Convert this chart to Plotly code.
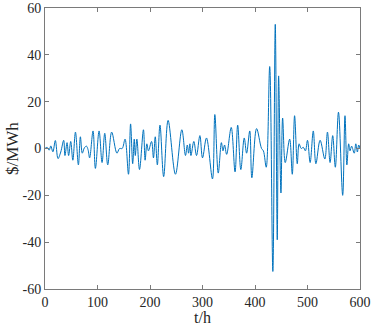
import plotly.graph_objects as go

t_h = [0, 4, 8, 11, 15, 19.7, 24.8, 30, 35.6, 38, 42, 45, 49, 53, 58, 63.6, 67.4, 71, 75, 79,
       82, 85, 91.5, 96, 103, 108.7, 113.8, 119.5, 127, 137, 142, 147, 152.5, 159, 163, 167, 170, 172, 175, 180,
       187.5, 190.7, 194, 197, 203, 206.6, 210, 214, 219, 226, 234.5, 248.5, 260.6, 267.6, 271, 273.5, 276, 278, 283.5, 288.6,
       295, 300, 307.6, 319, 323.5, 330, 336, 339, 342, 346, 354.7, 362, 367, 373, 379.5, 384, 390, 394, 403, 412.5,
       416, 421.4, 428, 434, 438.6, 442.4, 445, 449.4, 452.6, 457.6, 466, 471, 475.4, 480.5, 484, 488, 492, 496, 500, 505,
       511, 516, 524, 533, 538, 543, 548, 553, 559, 567, 571.4, 575, 578.4, 581, 584, 589, 592, 595, 597.5, 600]
price = [0, 0.5, -0.7, 1.1, -1.4, 3.4, -4.3, -1.5, 3.5, -3, 2.5, -3, 3, -5, 7, -7, 5, -2, 0.3, 1,
         -0.5, -4, 7.5, -8.5, 7.5, -6, 6.5, -7, 7, -2, 0, 0, 4, -11, 10.5, -6.5, 4, -3, 4, -9,
         8, -5, 2, -1, 3, -4, 5, -7, 10, -12, 12, -11, 8, -3, 1.5, -2, 2, -3, 3, -3,
         5.5, -4, 4.5, -13, 14.5, -10.5, 2.5, -1, 1.5, -2.5, 9, -10, 10, -9, 4.5, -2, 7.5, -12.5, 8.5, 0,
         -1, -8, 35, -52.5, 53, -39, 31, -19, 13, -6, 4, -11, 14, -6.5, 2, 0, 0.5, -1, 3.5, -6,
         7.5, -6.5, 3.5, -4.5, 7, -6, 5.5, -8, 15.5, -20, 14, -7, 2, -1, 1, -2, 2, -1.5, 1.5, 0]

x_ticks = [0, 100, 200, 300, 400, 500, 600]
y_ticks = [-60, -40, -20, 0, 20, 40, 60]

FONT = "Liberation Serif"
AX = "#7a7a7a"

fig = go.Figure(go.Scatter(x=t_h, y=price, mode="lines",
                           line=dict(color="#0072BD", width=1, shape="spline", smoothing=1.0)))

axis_common = dict(showline=True, linecolor=AX, linewidth=1, mirror="ticks", ticks="inside",
                   ticklen=4, tickcolor=AX, showgrid=False, zeroline=False,
                   ticklabeloverflow="allow",
                   tickfont=dict(family=FONT, size=14, color="#262626"))
fig.update_xaxes(range=[0, 600], tickvals=x_ticks, ticktext=[str(v) for v in x_ticks], **axis_common)
fig.update_yaxes(range=[-60, 60], tickvals=y_ticks, ticktext=[str(v) for v in y_ticks], **axis_common)

fig.update_layout(
    width=371, height=328,
    margin=dict(l=45, r=11, t=8, b=39, autoexpand=False),
    paper_bgcolor="white", plot_bgcolor="white",
    showlegend=False,
    annotations=[
        dict(text="t/h", xref="paper", yref="paper", x=0.5, y=-0.102, yanchor="middle",
             showarrow=False, font=dict(family=FONT, size=16, color="#262626")),
        dict(text="$/MWh", xref="paper", yref="paper", x=-0.103, y=0.5, xanchor="center",
             yanchor="middle", textangle=-90, showarrow=False,
             font=dict(family=FONT, size=17, color="#262626")),
    ],
)

fig.write_html("out.html", config={"displayModeBar": False},
               post_script="document.body.style.margin='0';document.body.style.overflow='hidden';")
